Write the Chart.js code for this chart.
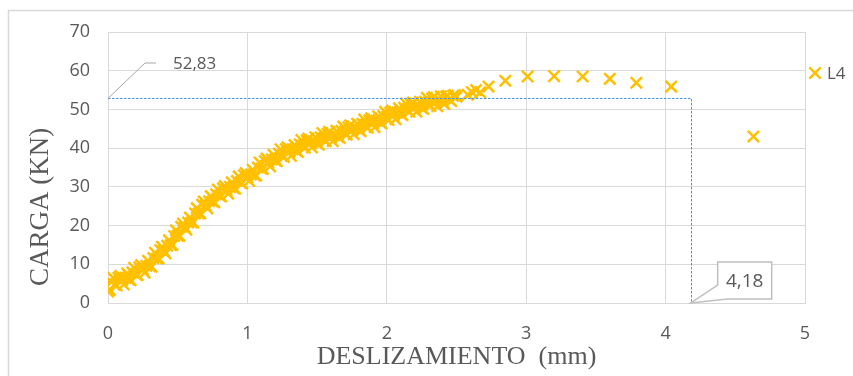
<!DOCTYPE html>
<html>
<head>
<meta charset="utf-8">
<script src="https://cdn.jsdelivr.net/npm/chart.js@4.4.1/dist/chart.umd.min.js"></script>
<style>
    body { margin: 0; background: #fff; }
    #wrap { width: 853px; height: 376px; position: relative; }
</style>
</head>
<body>
<div id="wrap"><canvas id="chart"></canvas></div>
<script>
// deslizamiento (mm)
const slipL4 = [
    0.000, 0.025, 0.050, 0.075, 0.100, 0.125, 0.150, 0.175, 0.200, 0.225,
    0.250, 0.275, 0.300, 0.325, 0.350, 0.375, 0.400, 0.425, 0.450, 0.475,
    0.500, 0.525, 0.550, 0.575, 0.600, 0.625, 0.650, 0.675, 0.700, 0.725,
    0.750, 0.775, 0.800, 0.825, 0.850, 0.875, 0.900, 0.925, 0.950, 0.975,
    1.000, 1.025, 1.050, 1.075, 1.100, 1.125, 1.150, 1.175, 1.200, 1.225,
    1.250, 1.275, 1.300, 1.325, 1.350, 1.375, 1.400, 1.425, 1.450, 1.475,
    1.500, 1.525, 1.550, 1.575, 1.600, 1.625, 1.650, 1.675, 1.700, 1.725,
    1.750, 1.775, 1.800, 1.825, 1.850, 1.875, 1.900, 1.925, 1.950, 1.975,
    2.000, 2.025, 2.050, 2.075, 2.100, 2.125, 2.150, 2.175, 2.200, 2.225,
    2.250, 2.275, 2.300, 2.325, 2.350, 2.375, 2.400, 2.425, 2.450, 2.475,
    2.500, 2.580, 2.610, 2.640, 2.670, 2.730, 2.850, 3.010, 3.200, 3.405,
    3.600, 3.790, 4.040, 4.630
];
// carga (KN)
const loadL4 = [
    3.0, 5.4, 4.8, 6.5, 5.8, 6.5, 6.1, 7.9, 7.4, 9.2,
    8.7, 9.6, 9.5, 11.6, 11.5, 13.7, 13.5, 14.8, 15.0, 17.3,
    17.4, 19.7, 19.6, 20.8, 20.8, 23.1, 23.1, 25.4, 25.2, 26.3,
    26.2, 28.1, 27.7, 29.6, 29.1, 30.0, 29.7, 31.5, 31.1, 33.0,
    32.4, 33.2, 33.0, 35.0, 34.7, 36.7, 36.2, 37.1, 36.8, 38.6,
    38.0, 39.7, 39.0, 39.7, 39.3, 41.0, 40.4, 42.0, 41.2, 41.8,
    41.2, 42.8, 42.1, 43.7, 42.9, 43.4, 42.9, 44.5, 43.8, 45.4,
    44.6, 45.2, 44.7, 46.3, 45.6, 47.2, 46.4, 47.1, 46.7, 48.3,
    47.6, 49.2, 48.5, 49.2, 48.8, 50.4, 49.7, 51.3, 50.5, 51.0,
    50.4, 52.0, 51.2, 52.8, 51.9, 52.4, 51.8, 53.3, 52.5, 53.5,
    53.3, 53.8, 54.5, 55.0, 54.4, 55.9, 57.4, 58.5, 58.6, 58.5,
    57.9, 56.9, 55.9, 43.0
];
// readings between the ones above (the thick part of the band)
const slipL4b = [
    0.0125, 0.0375, 0.0625, 0.0875, 0.1125, 0.1375, 0.1625, 0.1875, 0.2125, 0.2375,
    0.2625, 0.2875, 0.3125, 0.3375, 0.3625, 0.3875, 0.4125, 0.4375, 0.4625, 0.4875,
    0.5125, 0.5375, 0.5625, 0.5875, 0.6125, 0.6375, 0.6625, 0.6875, 0.7125, 0.7375,
    0.7625, 0.7875, 0.8125, 0.8375, 0.8625, 0.8875, 0.9125, 0.9375, 0.9625, 0.9875,
    1.0125, 1.0375, 1.0625, 1.0875, 1.1125, 1.1375, 1.1625, 1.1875, 1.2125, 1.2375,
    1.2625, 1.2875, 1.3125, 1.3375, 1.3625, 1.3875, 1.4125, 1.4375, 1.4625, 1.4875,
    1.5125, 1.5375, 1.5625, 1.5875, 1.6125, 1.6375, 1.6625, 1.6875, 1.7125, 1.7375,
    1.7625, 1.7875, 1.8125, 1.8375, 1.8625, 1.8875, 1.9125, 1.9375, 1.9625, 1.9875,
    2.0125, 2.0375, 2.0625, 2.0875, 2.1125, 2.1375, 2.1625, 2.1875, 2.2125, 2.2375,
    2.2625, 2.2875, 2.3125, 2.3375, 2.3625, 2.3875, 2.4125, 2.4375, 2.4625, 2.4875
];
const loadL4b = [
    3.4, 6.5, 4.5, 7.0, 4.8, 7.6, 5.9, 9.1, 7.2, 9.8,
    7.8, 10.9, 9.4, 13.0, 11.5, 14.5, 12.8, 16.2, 15.0, 18.8,
    17.4, 20.5, 18.9, 22.1, 20.8, 24.5, 23.1, 26.2, 24.4, 27.6,
    26.0, 29.3, 27.5, 30.2, 28.2, 31.2, 29.5, 32.7, 30.9, 33.6,
    31.5, 34.4, 32.9, 36.3, 34.6, 37.3, 35.3, 38.3, 36.6, 39.7,
    37.7, 40.2, 38.0, 40.8, 39.0, 42.1, 40.1, 42.5, 40.2, 42.8,
    40.9, 43.9, 41.8, 44.2, 41.8, 44.5, 42.6, 45.6, 43.5, 45.9,
    43.6, 46.3, 44.4, 47.4, 45.3, 47.7, 45.4, 48.2, 46.4, 49.4,
    47.3, 49.7, 47.5, 50.3, 48.5, 51.5, 49.4, 51.8, 49.4, 52.0,
    50.1, 53.0, 50.9, 53.2, 50.8, 53.4, 51.4, 53.5, 52.1, 53.7
];
const xTicks = [0, 1, 2, 3, 4, 5];
const yTicks = [0, 10, 20, 30, 40, 50, 60, 70];
const maxLoad = 52.83;
const slipAtEnd = 4.18;

const gray = '#595959';
const gridColor = '#d9d9d9';
const yellow = '#FFC000';

const points = slipL4.map((x, i) => ({ x: x, y: loadL4[i] }))
    .concat(slipL4b.map((x, i) => ({ x: x, y: loadL4b[i] })));

const fmt = v => String(v).replace('.', ',');

const extras = {
    id: 'extras',
    beforeDraw(chart) {
        const ctx = chart.ctx;
        ctx.save();
        ctx.strokeStyle = gridColor;
        ctx.lineWidth = 1.5;
        ctx.strokeRect(8.5, 10.5, 900, 400);
        ctx.restore();
    },
    afterDatasetsDraw(chart) {
        const ctx = chart.ctx;
        const xs = chart.scales.x, ys = chart.scales.y;
        const area = chart.chartArea;
        const px = xs.getPixelForValue(slipAtEnd);
        const py = ys.getPixelForValue(maxLoad);
        const x0 = xs.getPixelForValue(0);
        const y0 = ys.getPixelForValue(0);

        // dotted guide lines
        ctx.save();
        ctx.strokeStyle = '#4f93d3';
        ctx.lineWidth = 1;
        ctx.setLineDash([2.5, 1.5]);
        ctx.beginPath();
        ctx.moveTo(x0, Math.round(py) + 0.5);
        ctx.lineTo(Math.round(px) + 0.5, Math.round(py) + 0.5);
        ctx.lineTo(Math.round(px) + 0.5, y0);
        ctx.stroke();
        ctx.restore();

        // label 52,83 with leader line
        ctx.save();
        ctx.strokeStyle = '#a6a6a6';
        ctx.lineWidth = 1;
        ctx.beginPath();
        ctx.moveTo(x0, py);
        ctx.lineTo(x0 + 37, 63);
        ctx.lineTo(x0 + 48, 63);
        ctx.stroke();
        ctx.fillStyle = gray;
        ctx.font = '17px "Open Sans"';
        ctx.textBaseline = 'middle';
        ctx.fillText(fmt(maxLoad), x0 + 65, 64);
        ctx.restore();

        // callout box 4,18
        const bl = px + 27, bt = 262, bw = 54, bh = 37;
        ctx.save();
        ctx.strokeStyle = '#bfbfbf';
        ctx.fillStyle = '#fff';
        ctx.lineWidth = 1.5;
        ctx.beginPath();
        ctx.moveTo(bl, bt);
        ctx.lineTo(bl + bw, bt);
        ctx.lineTo(bl + bw, bt + bh);
        ctx.lineTo(bl + 10, bt + bh);
        ctx.lineTo(px, y0);
        ctx.lineTo(bl, bt + 23);
        ctx.closePath();
        ctx.fill();
        ctx.stroke();
        ctx.fillStyle = gray;
        ctx.font = '19px "Open Sans"';
        ctx.textAlign = 'center';
        ctx.textBaseline = 'middle';
        ctx.fillText(fmt(slipAtEnd), bl + bw / 2, bt + bh / 2 + 1);
        ctx.restore();

        // legend
        ctx.save();
        ctx.strokeStyle = yellow;
        ctx.lineWidth = 2.5;
        Chart.helpers.drawPoint(ctx, { pointStyle: 'crossRot', radius: 8, borderWidth: 2.5 }, area.right + 10, 73);
        ctx.fillStyle = gray;
        ctx.font = '17px "Open Sans"';
        ctx.textBaseline = 'middle';
        ctx.fillText('L4', area.right + 22, 74);
        ctx.restore();

        // y axis title
        ctx.save();
        ctx.translate(41, 207);
        ctx.rotate(-Math.PI / 2);
        ctx.fillStyle = gray;
        ctx.font = '27px "Liberation Serif"';
        ctx.textAlign = 'center';
        ctx.textBaseline = 'middle';
        ctx.fillText('CARGA (KN)', 0, 0);
        ctx.restore();
    }
};

new Chart(document.getElementById('chart'), {
    type: 'scatter',
    data: {
        datasets: [{
            label: 'L4',
            data: points,
            pointStyle: 'crossRot',
            pointRadius: 8,
            pointHoverRadius: 8,
            pointBorderWidth: 2.5,
            borderColor: yellow,
            backgroundColor: yellow
        }]
    },
    options: {
        responsive: true,
        maintainAspectRatio: false,
        animation: false,
        layout: { padding: { left: 0, right: 48, top: 32, bottom: 0 } },
        plugins: {
            legend: { display: false },
            tooltip: { enabled: false }
        },
        scales: {
            x: {
                type: 'linear',
                min: 0,
                max: 5,
                afterBuildTicks: s => { s.ticks = xTicks.map(v => ({ value: v })); },
                afterFit: s => { s.height = 73; },
                grid: { color: gridColor, drawTicks: false },
                border: { color: gridColor },
                ticks: {
                    color: gray,
                    padding: 20,
                    font: { family: 'Open Sans', size: 18 }
                },
                title: {
                    display: true,
                    text: 'DESLIZAMIENTO  (mm)',
                    color: gray,
                    font: { family: 'Liberation Serif', size: 26 },
                    padding: { top: 0, bottom: 3 }
                }
            },
            y: {
                type: 'linear',
                min: 0,
                max: 70,
                afterBuildTicks: s => { s.ticks = yTicks.map(v => ({ value: v })); },
                afterFit: s => { s.width = 108; },
                grid: { color: gridColor, drawTicks: false },
                border: { color: gridColor },
                ticks: {
                    color: gray,
                    padding: 18,
                    font: { family: 'Open Sans', size: 18 }
                }
            }
        }
    },
    plugins: [extras]
});
</script>
</body>
</html>
